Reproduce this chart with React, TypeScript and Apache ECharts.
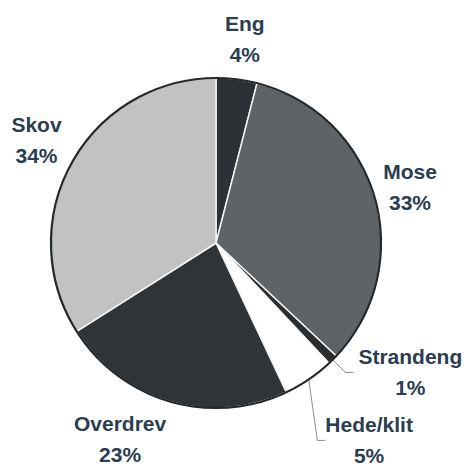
import React, { useEffect, useRef } from "react";
import * as echarts from "echarts";

const categories = ["Eng", "Mose", "Strandeng", "Hede/klit", "Overdrev", "Skov"];
const values = [4, 33, 1, 5, 23, 34];
const sliceColors = ["#2d3034", "#606366", "#2b2e31", "#ffffff", "#313437", "#c2c2c2"];
// label placement tuning per slice
const labelLen = [41, 37, 18, 10, 39, 49];
const labelLen2 = [0, 0, 8, 8, 34, 0];
const labelDist = [3, 0, 5, 3, 5, -8];
const showLine = [false, false, true, true, false, false];

export default function App() {
  const ref = useRef<HTMLDivElement>(null);
  useEffect(() => {
    document.body.style.margin = "0";
    const chart = echarts.init(ref.current!, null, { renderer: "svg" });
    let strandRect: any = null;
    const data = categories.map((name, i) => ({
      name,
      value: values[i],
      itemStyle: { color: sliceColors[i] },
      label: { distanceToLabelLine: labelDist[i] },
      labelLine: { show: showLine[i], length: labelLen[i], length2: labelLen2[i] },
    }));
    chart.setOption({
      animation: false,
      backgroundColor: "#ffffff",
      series: [
        {
          type: "pie",
          left: 0,
          top: 0,
          width: 466,
          height: 466,
          center: [216, 243],
          radius: 165,
          startAngle: 90,
          clockwise: true,
          avoidLabelOverlap: false,
          data,
          itemStyle: { borderColor: "#f4f4f4", borderWidth: 1.5 },
          label: {
            show: true,
            position: "outside",
            formatter: (p: any) => `{a|${p.name}}\n{a|${p.value}%}`,
            rich: {
              a: {
                align: "center",
                fontFamily: "Liberation Sans, Arial, sans-serif",
                fontWeight: "bold",
                fontSize: 21,
                lineHeight: 31,
                color: "#2b3d50",
              },
            },
          },
          labelLine: { lineStyle: { color: "#8a8f93", width: 1 }, smooth: false },
          labelLayout: (p: any) => {
            const i = p.dataIndex;
            if (i === 2) {
              strandRect = p.labelRect;
              return {};
            }
            if (i === 3 && strandRect) {
              return {
                x: p.labelRect.x,
                y: strandRect.y + strandRect.height / 2 + 68,
              };
            }
            return { align: "center" };
          },
        },
        {
          type: "pie",
          left: 0,
          top: 0,
          width: 466,
          height: 466,
          center: [216, 243],
          radius: 165,
          silent: true,
          z: 5,
          label: { show: false },
          labelLine: { show: false },
          data: [{ value: 1, name: "rim" }],
          itemStyle: { color: "rgba(0,0,0,0)", borderColor: "#23282c", borderWidth: 2.2 },
        },
      ],
    });
    return () => chart.dispose();
  }, []);
  return <div ref={ref} style={{ width: 466, height: 466 }} />;
}
